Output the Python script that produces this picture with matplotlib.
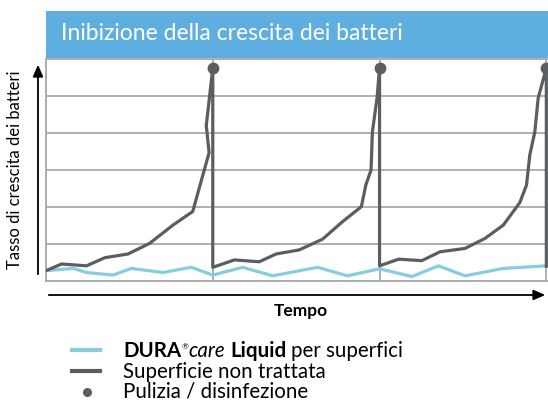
import matplotlib
matplotlib.use("Agg")
import matplotlib.pyplot as plt
from matplotlib.patches import Rectangle, FancyArrowPatch
from matplotlib.lines import Line2D

plt.rcParams['font.family'] = ['Lato', 'DejaVu Sans']

# untreated surface: growth curve, reset at every cleaning
untreated_t = [0.0, 0.094, 0.243, 0.353, 0.492, 0.622, 0.761, 0.880, 0.978, 0.961, 1.0,
               1.0, 1.130, 1.279, 1.379, 1.518, 1.658, 1.777, 1.891, 1.918, 1.949, 1.957, 1.985, 2.0,
               2.0, 2.114, 2.253, 2.363, 2.512, 2.632, 2.742, 2.841, 2.881, 2.901, 2.931, 2.951, 3.0,
               3.0]
untreated_y = [0.28, 0.46, 0.41, 0.63, 0.73, 1.02, 1.51, 1.88, 3.47, 4.20, 5.76,
               0.37, 0.57, 0.52, 0.73, 0.84, 1.13, 1.60, 2.01, 2.60, 3.00, 4.03, 4.95, 5.76,
               0.41, 0.59, 0.55, 0.79, 0.88, 1.15, 1.51, 2.12, 2.59, 3.41, 4.03, 4.94, 5.76,
               0.40]

# DURAcare Liquid treated surface
treated_t = [0.0, 0.163, 0.243, 0.402, 0.512, 0.701, 0.871, 1.0, 1.179, 1.359, 1.628, 1.807,
             2.0, 2.194, 2.353, 2.512, 2.742, 3.0]
treated_y = [0.28, 0.34, 0.23, 0.16, 0.34, 0.23, 0.37, 0.16, 0.37, 0.14, 0.37, 0.14,
             0.33, 0.12, 0.41, 0.14, 0.34, 0.41]

# cleaning / disinfection events
cleaning_t = [1.0, 2.0, 3.0]
cleaning_y = [5.76, 5.76, 5.76]

blue = "#86cde0"
dark = "#5b5e60"
grid = "#a9abab"

W, H = 548, 401
fig = plt.figure(figsize=(W / 100, H / 100), dpi=100)

def fx(px):
    return px / W

def fy(py):
    return (H - py) / H

ax = fig.add_axes([fx(46), fy(281), fx(548) - fx(46), fy(59) - fy(281)])
ax.set_xlim(0, 3.01)
ax.set_ylim(0, 6)
ax.set_xticks([0, 1, 2, 3])
ax.set_yticks([0, 1, 2, 3, 4, 5, 6])
ax.grid(True, color=grid, lw=1.3)
ax.tick_params(length=0, labelbottom=False, labelleft=False)
for s in ax.spines.values():
    s.set_color(grid)
    s.set_linewidth(1.3)
ax.spines['right'].set_visible(False)

ax.plot(treated_t, treated_y, color=blue, lw=2.3, zorder=3)
ax.plot(untreated_t, untreated_y, color=dark, lw=2.3, zorder=4)
ax.plot(cleaning_t, cleaning_y, 'o', color=dark, ms=7.5, zorder=5, clip_on=False)

# header band
fig.add_artist(Rectangle((fx(46), fy(58)), 1 - fx(46), fy(11) - fy(58),
                         transform=fig.transFigure, color="#5eaee0", lw=0))
fig.text(fx(61), fy(34), "Inibizione della crescita dei batteri", color="white",
         fontsize=16.5, va="center", ha="left")

# axis arrows
fig.add_artist(FancyArrowPatch(
    (fx(38), fy(277)), (fx(38), fy(62)), transform=fig.transFigure,
    arrowstyle="-|>,head_length=0.5,head_width=0.22", mutation_scale=14, color="black", lw=1.3))
fig.add_artist(FancyArrowPatch(
    (fx(46), fy(295)), (fx(548), fy(295)), transform=fig.transFigure,
    arrowstyle="-|>,head_length=0.5,head_width=0.22", mutation_scale=14, color="black", lw=1.3))
fig.text(fx(15), fy(170), "Tasso di crescita dei batteri", rotation=90,
         fontsize=12, ha="center", va="center")
fig.text(fx(301), fy(311), "Tempo", fontsize=12.5, weight="bold", ha="center", va="center")

# legend
fs = 14.8
fig.add_artist(Line2D([fx(72), fx(100)], [fy(350), fy(350)], color=blue, lw=3,
                      transform=fig.transFigure))
fig.add_artist(Line2D([fx(72), fx(100)], [fy(371), fy(371)], color=dark, lw=3,
                      transform=fig.transFigure))
fig.add_artist(Line2D([fx(87)], [fy(392)], marker='o', ms=5.5, color=dark,
                      transform=fig.transFigure))

t1 = ax.annotate("DURA", xy=(fx(123), fy(351)), xycoords="figure fraction",
                 fontsize=fs, weight="bold", va="center", annotation_clip=False)
t2 = ax.annotate("®", xy=(1, 1), xycoords=t1, xytext=(0.3, -1.5), textcoords="offset points",
                 fontsize=6, va="top", annotation_clip=False)
t3 = ax.annotate("care", xy=(1, 0), xycoords=t1, xytext=(5.5, 0), textcoords="offset points",
                 fontsize=fs, style="italic", va="bottom", annotation_clip=False)
t4 = ax.annotate("Liquid", xy=(1, 0), xycoords=t3, xytext=(3.5, 0), textcoords="offset points",
                 fontsize=fs, weight="bold", va="bottom", annotation_clip=False)
ax.annotate("per superfici", xy=(1, 0), xycoords=t4, xytext=(3.5, 0), textcoords="offset points",
            fontsize=fs, va="bottom", annotation_clip=False)
fig.text(fx(123), fy(372), "Superficie non trattata", fontsize=fs, va="center")
fig.text(fx(123), fy(392), "Pulizia / disinfezione", fontsize=fs, va="center")

fig.savefig("out.png", dpi=100)
